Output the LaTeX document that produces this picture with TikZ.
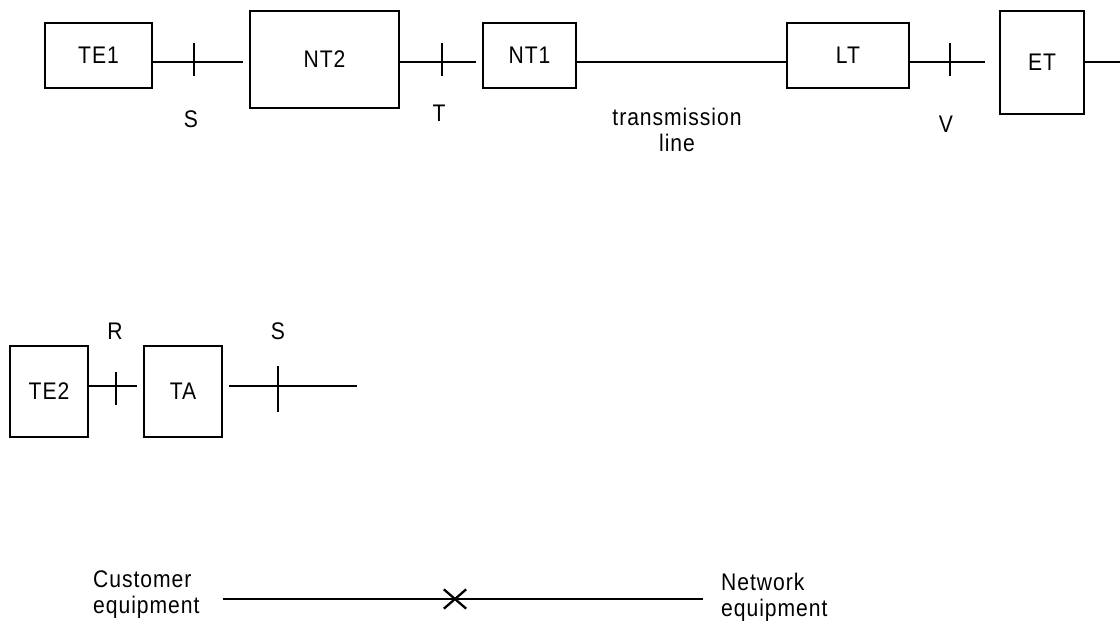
\documentclass[tikz,border=0pt]{standalone}
\usepackage{fontspec}
\setmainfont{Liberation Sans}[FakeStretch=0.88, LetterSpace=4]
\usetikzlibrary{positioning, calc, shapes.misc}

\tikzset{
    unit/.style={draw, line width=2.3pt, inner sep=0pt},
    lbl/.style={inner sep=0pt, align=center},
    wire/.style={line width=2.3pt},
}

\begin{document}
\begin{tikzpicture}[x=1pt, y=-1pt, font=\fontsize{24}{26}\selectfont]
    \useasboundingbox (0,0) rectangle (1120,621);

    % Upper chain of units
    \node[unit, minimum width=107pt, minimum height=65pt]  (TE1) at (98.5,55.5) {TE1};
    \node[unit, minimum width=149pt, minimum height=97pt]  (NT2) at (324.5,59.5) {NT2};
    \node[unit, minimum width=93pt,  minimum height=65pt]  (NT1) at (529.5,55.5) {NT1};
    \node[unit, minimum width=122pt, minimum height=65pt]  (LT)  at (848,55.5) {LT};
    \node[unit, minimum width=84pt,  minimum height=103pt] (ET)  at (1042,62.5) {ET};

    % Reference points on the upper line
    \coordinate (tS) at (194,62);
    \coordinate (tT) at (442,62);
    \coordinate (tV) at (950,62);
    \coordinate (etEnd) at (1120,62);

    % Upper connectors
    \draw[wire, shorten >=6pt]  (TE1.east |- tS) -- (NT2.west |- tS);
    \draw[wire, shorten >=6pt]  (NT2.east |- tT) -- (NT1.west |- tT);
    \draw[wire]                 (NT1.east |- tT) -- (LT.west |- tT);
    \draw[wire, shorten >=14pt] (LT.east |- tV) -- (ET.west |- tV);
    \draw[wire]                 (ET.east |- tV) -- (etEnd);

    % Ticks for the upper reference points
    \foreach \p in {tS,tT,tV} {
        \draw[wire] ([yshift=19pt]\p) -- ([yshift=-14pt]\p);
    }

    % Upper labels
    \node[lbl] (lS)  at (191,119) {S};
    \node[lbl] (lT)  at (439,113) {T};
    \node[lbl] (lV)  at (946,124) {V};
    \node[lbl] (lTx) at (677,130) {transmission\\line};

    % Lower chain with adapter
    \node[unit, minimum width=78pt, minimum height=91pt] (TE2) at (49,391.5) {TE2};
    \node[unit, minimum width=78pt, minimum height=91pt] (TA)  at (183,391.5) {TA};

    \coordinate (tR)  at (116,386);
    \coordinate (tS2) at (278,386);
    \coordinate (open) at (357,386);

    \draw[wire, shorten >=6pt] (TE2.east |- tR) -- (TA.west |- tR);
    \draw[wire, shorten <=6pt] (TA.east |- tS2) -- (open);
    \draw[wire] ([yshift=14pt]tR) -- ([yshift=-19pt]tR);
    \draw[wire] ([yshift=20pt]tS2) -- ([yshift=-26pt]tS2);

    \node[lbl] (lR)  at (115,331) {R};
    \node[lbl] (lS2) at (278,331) {S};

    % Customer / network boundary
    \node[lbl, align=left, anchor=west] (cust) at (93,595) {Customer\\equipment};
    \node[lbl, align=left, anchor=west] (net)  at (721,597) {Network\\equipment};
    \node[cross out, draw, line width=2.3pt, minimum width=20pt, minimum height=17pt, inner sep=0pt] (cut) at (455,599) {};
    \draw[wire, shorten <=23pt, shorten >=18pt] (cust.east |- cut) -- (net.west |- cut);

\end{tikzpicture}
\end{document}
